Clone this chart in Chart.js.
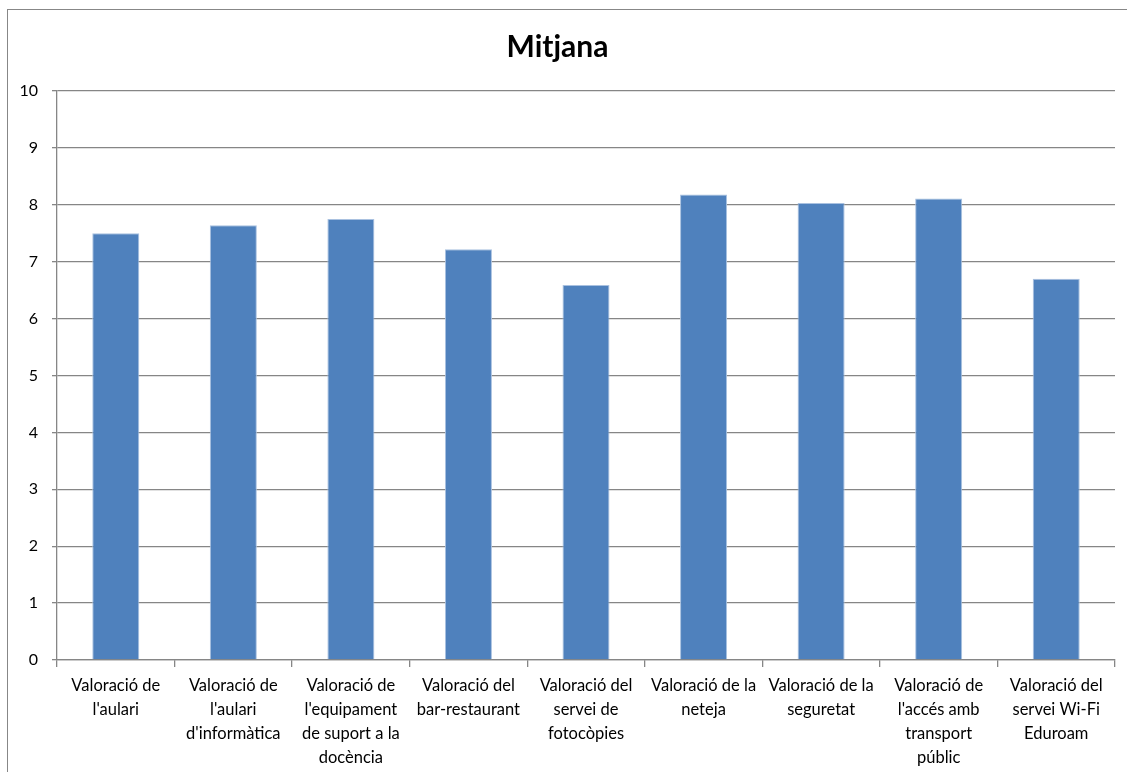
<!DOCTYPE html>
<html>
<head>
<meta charset="utf-8">
<script src="https://cdn.jsdelivr.net/npm/chart.js@4"></script>
<style>
    html, body { margin: 0; padding: 0; background: #fff; overflow: hidden; }
    #wrap { position: relative; width: 1127px; height: 772px; }
    #frame { position: absolute; left: 7px; top: 9px; width: 1200px; height: 900px; border: 1px solid #878787; }
    canvas { position: absolute; left: 0; top: 0; }
</style>
</head>
<body>
<div id="wrap">
    <div id="frame"></div>
    <canvas id="chart" width="1127" height="772"></canvas>
</div>
<script>
// Chart data
const categories = [
    ["Valoració de", "l'aulari"],
    ["Valoració de", "l'aulari", "d'informàtica"],
    ["Valoració de", "l'equipament", "de suport a la", "docència"],
    ["Valoració del", "bar-restaurant"],
    ["Valoració del", "servei de", "fotocòpies"],
    ["Valoració de la", "neteja"],
    ["Valoració de la", "seguretat"],
    ["Valoració de", "l'accés amb", "transport", "públic"],
    ["Valoració del", "servei Wi-Fi", "Eduroam"]
];
const mitjana = [7.50, 7.64, 7.75, 7.22, 6.59, 8.18, 8.03, 8.11, 6.70];
const yMin = 0;
const yMax = 10;
const yStep = 1;

const fontFamily = "Lato, 'Open Sans', sans-serif";
const gridColor = '#868686';

const ctx = document.getElementById('chart').getContext('2d');
new Chart(ctx, {
    type: 'bar',
    data: {
        labels: categories,
        datasets: [{
            label: 'Mitjana',
            data: mitjana,
            backgroundColor: '#4F81BD',
            borderColor: '#A9C1E0',
            borderWidth: 1,
            categoryPercentage: 1.0,
            barPercentage: 0.40
        }]
    },
    options: {
        responsive: false,
        animation: false,
        layout: {
            padding: { left: 0, right: 12, top: 0, bottom: 0 }
        },
        plugins: {
            legend: { display: false },
            tooltip: { enabled: false },
            title: {
                display: true,
                text: 'Mitjana',
                color: '#000',
                font: { family: fontFamily, size: 30, weight: 'bold', lineHeight: 1.2 },
                padding: { top: 29, bottom: 26 }
            }
        },
        scales: {
            x: {
                grid: {
                    display: true,
                    drawOnChartArea: false,
                    color: gridColor,
                    lineWidth: 1.3,
                    tickLength: 7,
                    offset: true
                },
                border: { color: gridColor, width: 1.3 },
                ticks: {
                    autoSkip: false,
                    maxRotation: 0,
                    minRotation: 0,
                    color: '#000',
                    padding: 7,
                    font: { family: fontFamily, size: 16.5, lineHeight: '24px' }
                },
                afterFit: function(scale) { scale.height = 112; }
            },
            y: {
                min: yMin,
                max: yMax,
                grid: {
                    color: gridColor,
                    lineWidth: 1.3,
                    tickLength: 5
                },
                border: { color: gridColor, width: 1.3 },
                ticks: {
                    stepSize: yStep,
                    color: '#000',
                    padding: 14,
                    font: { family: fontFamily, size: 16 }
                },
                afterFit: function(scale) { scale.width = 57; }
            }
        }
    }
});
</script>
</body>
</html>
